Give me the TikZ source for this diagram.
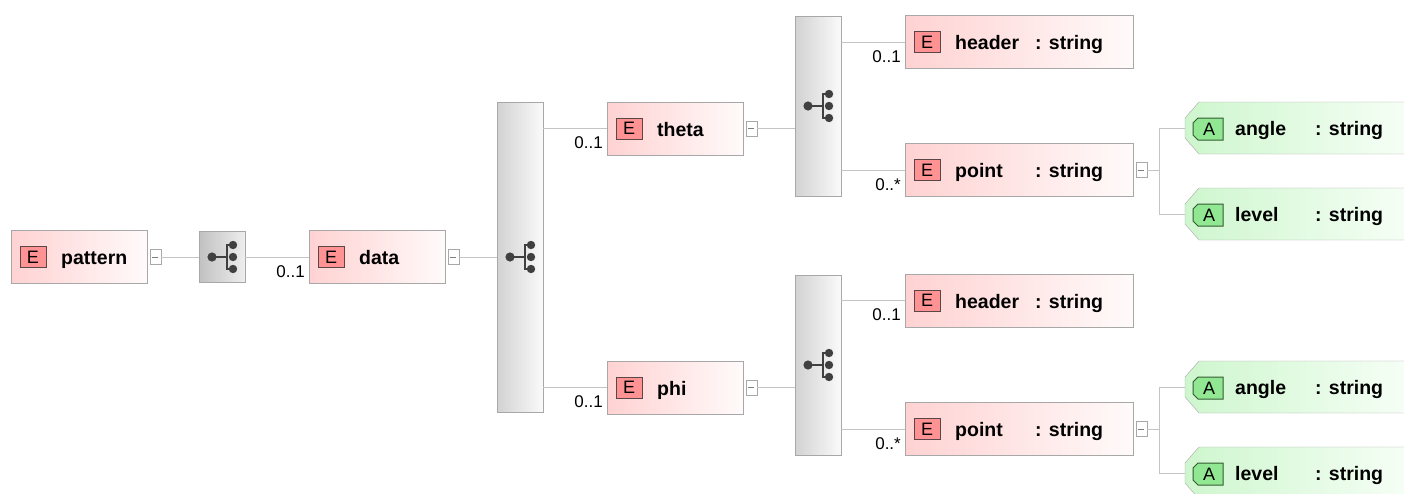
\documentclass[tikz,border=0pt]{standalone}
\usepackage{fontspec}
\setmainfont{Liberation Sans}
\usetikzlibrary{calc}
\definecolor{connc}{RGB}{196,196,196}
\definecolor{boxc}{RGB}{168,168,168}
\definecolor{epinkL}{RGB}{255,210,210}
\definecolor{epinkR}{RGB}{255,250,250}
\definecolor{ebadgec}{RGB}{255,146,146}
\definecolor{ebadged}{RGB}{90,70,70}
\definecolor{compL}{RGB}{210,210,210}
\definecolor{compR}{RGB}{250,250,250}
\definecolor{agreenL}{RGB}{206,246,206}
\definecolor{agreenR}{RGB}{248,255,248}
\definecolor{abadgec}{RGB}{146,232,146}
\definecolor{abadged}{RGB}{50,90,50}
\definecolor{iconc}{RGB}{64,64,64}
\newcommand\xelem[5]{%
  \node[elembox, minimum width=#4pt] (#1) at (#2,#3) {};
  \node[ebadge] (#1-b) at ($(#1.west)+(22,0)$) {E};
  \node[nametext] (#1-n) at ($(#1.west)+(50,7.5)$) {#5};
}
\newcommand\xtype[1]{%
  \node[nametext] (#1-t) at ($(#1.west)+(130,7.5)$) {: string};
}
\newcommand\xminus[1]{%
  \node[minusbox] (#1-m) at ($(#1.east)+(8,0)$) {};
}
\newcommand\xattr[3]{%
  \coordinate (#1) at (1185,#2);
  \shadedraw[draw=boxc, left color=agreenL, right color=agreenR]
    (1185,{#2-10}) -- (1199,{#2-26}) -- (1420,{#2-26}) -- (1420,{#2+26})
    -- (1199,{#2+26}) -- (1185,{#2+10}) -- cycle;
  \filldraw[fill=abadgec, draw=abadged, line width=1pt]
    (1193,{#2+1-6}) -- (1198,{#2+1-11}) -- (1223,{#2+1-11}) -- (1223,{#2+1+11})
    -- (1198,{#2+1+11}) -- (1193,{#2+1+6}) -- cycle;
  \node[badgetext] (#1-b) at (1209,{#2+1}) {A};
  \node[nametext] (#1-n) at (1235,{#2+7.5}) {#3};
  \node[nametext] (#1-t) at (1315,{#2+7.5}) {: string};
}
\begin{document}
\begin{tikzpicture}[x=1pt,y=-1pt,
  elembox/.style={draw=boxc, left color=epinkL, right color=epinkR,
    minimum height=53pt, inner sep=0pt, anchor=west},
  ebadge/.style={draw=ebadged, fill=ebadgec, line width=1pt, minimum width=26pt,
    minimum height=21pt, inner sep=0pt, font=\fontsize{18}{18}\selectfont},
  badgetext/.style={inner sep=0pt, font=\fontsize{18}{18}\selectfont},
  nametext/.style={anchor=base west, inner sep=0pt, font=\fontsize{19.5}{19.5}\selectfont\bfseries},
  mult/.style={anchor=base east, inner sep=0pt, font=\fontsize{17}{17}\selectfont},
  minusbox/.style={draw=boxc, fill=white, minimum width=11pt, minimum height=15pt,
    inner sep=0pt, path picture={\draw[gray, line width=0.8pt]
      ([xshift=-3pt]path picture bounding box.center) --
      ([xshift=3pt]path picture bounding box.center);}},
  compbox/.style={draw=boxc, left color=compL, right color=compR,
    minimum width=46pt, inner sep=0pt},
  conn/.style={draw=connc, line width=1pt},
  seqicon/.pic={
    \draw[iconc, line width=2pt] (-10,0) -- (5,0);
    \draw[iconc, line width=2pt] (11,-12) -- (5,-12) -- (5,12) -- (11,12);
    \fill[iconc] (-10,0) circle (4.6pt);
    \fill[iconc] (11,-12) circle (4.2pt);
    \fill[iconc] (11,0) circle (4.2pt);
    \fill[iconc] (11,12) circle (4.2pt);
  }]
\useasboundingbox (0,0) rectangle (1404,493);
\clip (0,0) rectangle (1404,493);

% elements
\xelem{pattern}{11}{257}{136}{pattern}
\xminus{pattern}
\node[compbox, minimum height=51pt, left color=compL!92!black, right color=compR!95!black] (seqA) at (222,257) {};
\pic at (seqA.center) {seqicon};
\xelem{data}{309}{257}{136}{data}
\xminus{data}
\node[compbox, minimum height=310pt] (seqB) at (520,257) {};
\pic at (seqB.center) {seqicon};

\xelem{theta}{607}{128.5}{136}{theta}
\xminus{theta}
\xelem{phi}{607}{387.5}{136}{phi}
\xminus{phi}

\node[compbox, minimum height=180pt] (seqT) at (818,106) {};
\pic at (seqT.center) {seqicon};
\node[compbox, minimum height=180pt] (seqP) at (818,365) {};
\pic at (seqP.center) {seqicon};

\xelem{headerT}{905}{42}{228}{header}
\xtype{headerT}
\xelem{pointT}{905}{170}{228}{point}
\xtype{pointT}
\xminus{pointT}
\xelem{headerP}{905}{300.5}{228}{header}
\xtype{headerP}
\xelem{pointP}{905}{429}{228}{point}
\xtype{pointP}
\xminus{pointP}

\xattr{angleT}{128}{angle}
\xattr{levelT}{214}{level}
\xattr{angleP}{387}{angle}
\xattr{levelP}{473}{level}

% connectors
\draw[conn] (pattern-m.east) -- (seqA.west |- pattern-m.east);
\draw[conn] (seqA.east) -- (data.west);
\node[mult] at ($(data.west)+(-4,20)$) {0..1};
\draw[conn] (data-m.east) -- (seqB.west |- data-m.east);

\draw[conn] (seqB.east |- theta.west) -- (theta.west);
\node[mult] at ($(theta.west)+(-4,20)$) {0..1};
\draw[conn] (seqB.east |- phi.west) -- (phi.west);
\node[mult] at ($(phi.west)+(-4,20)$) {0..1};

\draw[conn] (theta-m.east) -- (seqT.west |- theta-m.east);
\draw[conn] (phi-m.east) -- (seqP.west |- phi-m.east);

\draw[conn] (seqT.east |- headerT.west) -- (headerT.west);
\node[mult] at ($(headerT.west)+(-4,20)$) {0..1};
\draw[conn] (seqT.east |- pointT.west) -- (pointT.west);
\node[mult] at ($(pointT.west)+(-4,20)$) {0..*};
\draw[conn] (seqP.east |- headerP.west) -- (headerP.west);
\node[mult] at ($(headerP.west)+(-4,20)$) {0..1};
\draw[conn] (seqP.east |- pointP.west) -- (pointP.west);
\node[mult] at ($(pointP.west)+(-4,20)$) {0..*};

\draw[conn] (pointT-m.east) -- ++(12,0) coordinate (jT);
\draw[conn] (angleT) -| (jT) |- (levelT);
\draw[conn] (pointP-m.east) -- ++(12,0) coordinate (jP);
\draw[conn] (angleP) -| (jP) |- (levelP);
\end{tikzpicture}
\end{document}
